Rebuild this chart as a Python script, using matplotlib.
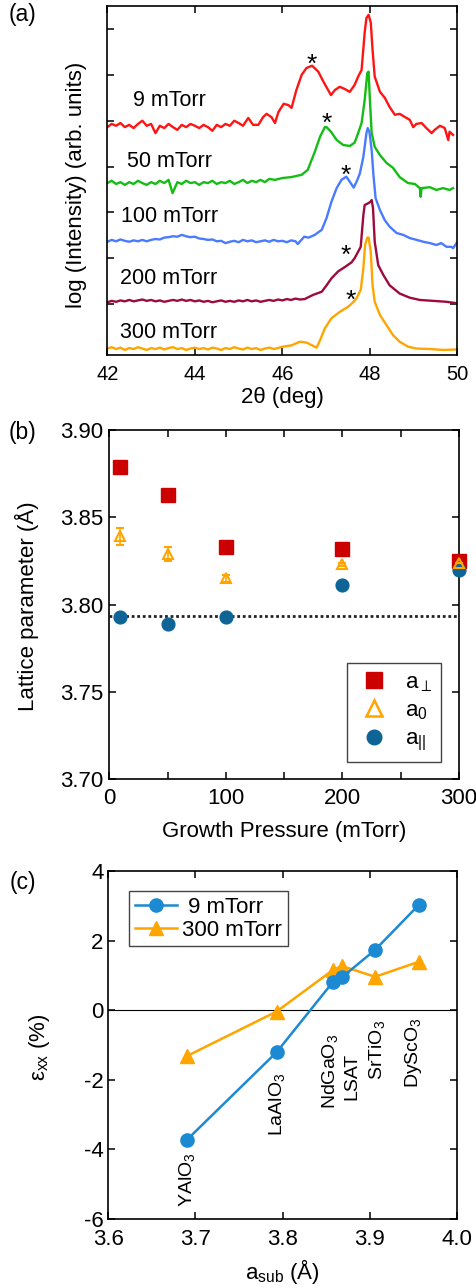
import numpy as np
import matplotlib.pyplot as plt
from matplotlib.lines import Line2D
from matplotlib.ticker import MultipleLocator

plt.rcParams['font.family'] = ['Liberation Sans', 'DejaVu Sans']
plt.rcParams['mathtext.fontset'] = 'custom'
plt.rcParams['mathtext.rm'] = 'Liberation Sans'
plt.rcParams['mathtext.it'] = 'Liberation Sans:italic'
plt.rcParams['mathtext.default'] = 'regular'
plt.rcParams['axes.unicode_minus'] = False

# ---- (a) XRD scans, log intensity with vertical offsets (arb. units) ----
scan_labels = ['9 mTorr', '50 mTorr', '100 mTorr', '200 mTorr', '300 mTorr']

red_x = [42.0, 42.1, 42.2, 42.3, 42.4, 42.5, 42.6, 42.7, 42.8, 42.9,
         43.0, 43.1, 43.2, 43.3, 43.4, 43.5, 43.6, 43.7, 43.8, 43.9,
         44.0, 44.1, 44.2, 44.3, 44.4, 44.5, 44.6, 44.7, 44.8, 44.9,
         45.0, 45.1, 45.22, 45.33, 45.45, 45.56, 45.64, 45.75, 45.83, 45.91,
         46.03, 46.14, 46.21, 46.32, 46.44, 46.55, 46.68, 46.82, 46.95, 47.11,
         47.2, 47.31, 47.43, 47.54, 47.65, 47.73, 47.81, 47.88, 47.92, 47.97,
         48.02, 48.06, 48.11, 48.23, 48.34, 48.45, 48.57, 48.68, 48.8, 48.91,
         48.99, 49.06, 49.18, 49.29, 49.41, 49.48, 49.6, 49.71, 49.79, 49.82, 49.9]
red_y = [3.86, 3.93, 3.89, 3.95, 3.86, 3.91, 3.84, 3.93, 4.00, 3.89,
         3.93, 3.73, 3.89, 3.84, 3.93, 3.86, 3.80, 3.91, 3.86, 3.93,
         3.89, 3.84, 3.91, 3.86, 3.78, 3.91, 3.86, 3.93, 3.89, 4.00,
         3.95, 3.89, 4.06, 3.91, 3.91, 4.08, 4.15, 4.08, 3.95, 4.19,
         4.37, 4.34, 4.28, 4.67, 5.00, 5.15, 5.20, 5.07, 4.83, 4.56,
         4.67, 4.74, 4.69, 4.63, 4.78, 4.96, 5.11, 5.92, 6.24, 6.31,
         6.14, 5.55, 4.96, 4.63, 4.50, 4.30, 4.13, 4.15, 4.08, 4.02,
         3.86, 3.93, 3.95, 3.84, 3.73, 3.80, 3.89, 3.84, 3.58, 3.76, 3.69]

green_x = [42.0, 42.1, 42.2, 42.3, 42.4, 42.5, 42.6, 42.7, 42.8, 42.9,
           43.0, 43.1, 43.2, 43.3, 43.4, 43.49, 43.6, 43.7, 43.8, 43.9,
           44.0, 44.1, 44.2, 44.3, 44.4, 44.5, 44.6, 44.7, 44.8, 44.9,
           45.0, 45.1, 45.2, 45.3, 45.4, 45.5, 45.6, 45.7, 45.83, 46.0,
           46.2, 46.44, 46.58, 46.74, 46.86, 46.97, 47.01, 47.11, 47.24, 47.39,
           47.54, 47.65, 47.69, 47.81, 47.88, 47.94, 47.97, 48.0, 48.04, 48.11,
           48.23, 48.38, 48.53, 48.68, 48.87, 49.03, 49.14, 49.16, 49.18, 49.37,
           49.52, 49.67, 49.82, 49.9]
green_y = [2.64, 2.69, 2.62, 2.66, 2.60, 2.66, 2.62, 2.69, 2.64, 2.60,
           2.66, 2.62, 2.69, 2.64, 2.71, 2.42, 2.66, 2.62, 2.69, 2.64,
           2.66, 2.60, 2.66, 2.64, 2.69, 2.62, 2.66, 2.64, 2.69, 2.62,
           2.66, 2.71, 2.64, 2.69, 2.66, 2.71, 2.66, 2.73, 2.71, 2.75,
           2.77, 2.82, 2.93, 3.32, 3.65, 3.86, 3.86, 3.76, 3.58, 3.47,
           3.45, 3.52, 3.62, 3.95, 4.45, 5.04, 5.07, 4.45, 3.73, 3.43,
           3.25, 3.08, 2.97, 2.77, 2.64, 2.62, 2.53, 2.34, 2.53, 2.55,
           2.49, 2.53, 2.49, 2.53]

blue_x = [42.0, 42.1, 42.2, 42.3, 42.4, 42.5, 42.6, 42.7, 42.8, 42.9,
          43.0, 43.1, 43.2, 43.3, 43.4, 43.5, 43.6, 43.7, 43.8, 43.9,
          44.0, 44.1, 44.2, 44.3, 44.4, 44.5, 44.6, 44.7, 44.8, 44.9,
          45.0, 45.1, 45.2, 45.3, 45.4, 45.5, 45.6, 45.7, 45.8, 45.9,
          46.0, 46.1, 46.2, 46.3, 46.35, 46.5, 46.6, 46.74, 46.9, 47.01,
          47.12, 47.24, 47.35, 47.46, 47.54, 47.63, 47.7, 47.77, 47.85, 47.92,
          47.95, 47.99, 48.04, 48.08, 48.13, 48.23, 48.34, 48.45, 48.61, 48.76,
          48.91, 49.07, 49.22, 49.37, 49.52, 49.63, 49.75, 49.86, 49.9, 49.98]
blue_y = [1.36, 1.40, 1.37, 1.41, 1.38, 1.36, 1.39, 1.37, 1.40, 1.37,
          1.40, 1.42, 1.41, 1.45, 1.46, 1.48, 1.47, 1.51, 1.48, 1.46,
          1.47, 1.43, 1.42, 1.40, 1.41, 1.37, 1.38, 1.33, 1.36, 1.38,
          1.35, 1.40, 1.37, 1.39, 1.35, 1.37, 1.39, 1.36, 1.40, 1.37,
          1.38, 1.35, 1.39, 1.37, 1.31, 1.47, 1.45, 1.51, 1.62, 1.88,
          2.23, 2.53, 2.71, 2.78, 2.67, 2.54, 2.68, 2.85, 3.21, 3.73,
          3.84, 3.75, 3.36, 2.82, 2.31, 2.05, 1.83, 1.69, 1.55, 1.51,
          1.44, 1.40, 1.36, 1.33, 1.29, 1.33, 1.25, 1.25, 1.22, 1.33]

maroon_x = [42.0, 42.1, 42.2, 42.3, 42.4, 42.5, 42.6, 42.7, 42.8, 42.9,
            43.0, 43.1, 43.2, 43.3, 43.4, 43.5, 43.6, 43.7, 43.8, 43.9,
            44.0, 44.1, 44.2, 44.3, 44.4, 44.5, 44.6, 44.7, 44.8, 44.9,
            45.0, 45.1, 45.2, 45.3, 45.4, 45.5, 45.6, 45.7, 45.8, 45.9,
            46.0, 46.1, 46.2, 46.3, 46.4, 46.51, 46.7, 46.9, 47.01, 47.12,
            47.27, 47.43, 47.58, 47.65, 47.69, 47.79, 47.85, 47.88, 47.96, 48.01,
            48.04, 48.07, 48.11, 48.19, 48.31, 48.45, 48.68, 48.91, 49.14, 49.45,
            49.75, 49.98]
maroon_y = [0.04, 0.07, 0.05, 0.08, 0.06, 0.09, 0.06, 0.08, 0.10, 0.07,
            0.09, 0.06, 0.08, 0.05, 0.07, 0.09, 0.07, 0.10, 0.07, 0.09,
            0.06, 0.08, 0.05, 0.07, 0.04, 0.06, 0.08, 0.05, 0.07, 0.05,
            0.08, 0.06, 0.09, 0.06, 0.08, 0.05, 0.07, 0.09, 0.07, 0.10,
            0.08, 0.11, 0.09, 0.12, 0.10, 0.11, 0.20, 0.27, 0.41, 0.56,
            0.71, 0.81, 0.91, 1.00, 1.07, 1.25, 1.94, 2.16, 2.20, 2.23,
            2.27, 2.10, 1.36, 0.85, 0.63, 0.41, 0.23, 0.14, 0.09, 0.07,
            0.05, 0.02]

orange_x = [42.0, 42.1, 42.2, 42.3, 42.4, 42.5, 42.6, 42.7, 42.8, 42.9,
            43.0, 43.1, 43.2, 43.3, 43.4, 43.5, 43.6, 43.7, 43.8, 43.9,
            44.0, 44.1, 44.2, 44.3, 44.4, 44.5, 44.6, 44.7, 44.8, 44.9,
            45.0, 45.1, 45.2, 45.3, 45.4, 45.5, 45.6, 45.7, 45.8, 45.9,
            46.0, 46.21, 46.4, 46.55, 46.7, 46.78, 46.86, 46.97, 47.12, 47.31,
            47.5, 47.65, 47.69, 47.79, 47.85, 47.89, 47.94, 47.97, 48.02, 48.06,
            48.11, 48.23, 48.38, 48.53, 48.68, 48.87, 49.07, 49.37, 49.67, 49.98]
orange_y = [-0.97, -0.94, -0.98, -0.95, -1.00, -0.96, -0.98, -0.94, -0.97, -1.00,
            -0.96, -0.98, -0.95, -0.99, -0.96, -0.94, -0.98, -0.96, -1.00, -0.97,
            -0.95, -0.98, -0.96, -0.99, -0.95, -0.97, -1.00, -0.96, -0.98, -0.94,
            -0.97, -0.99, -0.95, -0.98, -0.96, -1.00, -0.97, -0.95, -0.98, -0.96,
            -0.93, -0.90, -0.82, -0.84, -0.91, -0.95, -0.79, -0.53, -0.31, -0.17,
            -0.06, 0.07, 0.12, 0.31, 0.78, 1.29, 1.45, 1.45, 1.14, 0.41,
            0.05, -0.24, -0.46, -0.68, -0.82, -0.93, -0.97, -0.98, -1.00, -0.99]

# ---- (b) lattice parameters vs growth pressure ----
pressure = [9, 50, 100, 200, 300]
a_perp = [3.879, 3.863, 3.833, 3.832, 3.825]
a_0 = [3.839, 3.829, 3.815, 3.823, 3.824]
a_0_err = [0.005, 0.004, 0.002, 0.001, 0.0]
a_par = [3.793, 3.789, 3.793, 3.811, 3.820]
a_bulk = 3.7935

# ---- (c) in-plane strain vs substrate lattice parameter ----
substrates = ['YAlO$_3$', 'LaAlO$_3$', 'NdGaO$_3$', 'LSAT', 'SrTiO$_3$', 'DyScO$_3$']
a_sub = [3.69, 3.793, 3.858, 3.868, 3.906, 3.956]
strain_9 = [-3.73, -1.21, 0.82, 0.945, 1.73, 3.02]
strain_300 = [-1.32, -0.04, 1.16, 1.27, 0.96, 1.39]


fig = plt.figure(figsize=(4.77, 12.88), dpi=100)

def style_axes(ax, size, xpad, ypad):
    ax.tick_params(direction='in', top=True, right=True, length=5, width=1.1,
                   labelsize=size)
    ax.tick_params(axis='x', which='both', pad=xpad)
    ax.tick_params(axis='y', which='both', pad=ypad)
    ax.tick_params(which='minor', direction='in', top=True, right=True, length=5, width=1.1)
    for s in ax.spines.values():
        s.set_linewidth(1.2)

# panel (a)
ax_a = fig.add_axes([0.225, 0.7244, 0.734, 0.2712])
scan_colors = ['#ff1414', '#14bd14', '#4a7bff', '#9c0b3c', '#ffa500']
scans = [(red_x, red_y), (green_x, green_y), (blue_x, blue_y),
         (maroon_x, maroon_y), (orange_x, orange_y)]
for (x, y), c in zip(scans, scan_colors):
    ax_a.plot(x, y, color=c, lw=1.7)
ax_a.set_xlim(42, 50)
ax_a.set_ylim(-1.11, 6.51)
ax_a.set_xticks([42, 44, 46, 48, 50])
ax_a.set_yticks(range(0, 7))
ax_a.set_yticklabels([])
style_axes(ax_a, 14.5, 7, 4)

label_pos = [(42.59, 4.45), (42.45, 3.10), (42.31, 1.90), (42.29, 0.55), (42.29, -0.61)]
for (lx, ly), txt in zip(label_pos, scan_labels):
    ax_a.text(lx, ly, txt, va='center', ha='left', fontsize=15.5)
star_pos = [(46.67, 5.39), (47.02, 4.10), (47.45, 2.97), (47.45, 1.22), (47.56, 0.24)]
for sx, sy in star_pos:
    ax_a.text(sx, sy - 0.17, '*', ha='center', va='center', fontsize=19)

ax_a.set_xlabel('2θ (deg)', fontsize=16, va='center')
ax_a.xaxis.set_label_coords(0.5, -0.123)
ax_a.set_ylabel('log (Intensity) (arb. units)', fontsize=16, va='center')
ax_a.yaxis.set_label_coords(-0.089, 0.488)

# panel (b)
ax_b = fig.add_axes([0.2291, 0.3950, 0.7331, 0.2712])
ax_b.axhline(a_bulk, color='#222222', ls=(0, (1, 1.0)), lw=2.0, zorder=2)
ax_b.plot(pressure, a_perp, 's', color='#cc0000', ms=9.4, clip_on=False, zorder=3)
ax_b.plot(pressure, a_par, 'o', color='#0f6496', ms=9.2, clip_on=False, zorder=4)
ax_b.errorbar(pressure, a_0, yerr=a_0_err, fmt='^', color='#ffa500', mfc='none',
              mew=1.5, ms=7.5, capsize=3, elinewidth=1.2, capthick=1.2,
              clip_on=False, zorder=5)
ax_b.set_xlim(0, 300)
ax_b.set_ylim(3.70, 3.90)
ax_b.xaxis.set_major_locator(MultipleLocator(100))
ax_b.xaxis.set_minor_locator(MultipleLocator(50))
ax_b.yaxis.set_major_locator(MultipleLocator(0.05))
ax_b.yaxis.set_major_formatter(plt.FormatStrFormatter('%.2f'))
style_axes(ax_b, 16, 6, 4)
ax_b.set_xlabel('Growth Pressure (mTorr)', fontsize=16, va='center')
ax_b.xaxis.set_label_coords(0.5, -0.151)
ax_b.set_ylabel('Lattice parameter (Å)', fontsize=16, va='center')
ax_b.yaxis.set_label_coords(-0.235, 0.496)

h_perp = Line2D([], [], ls='none', marker='s', color='#cc0000', ms=11)
h_0 = Line2D([], [], ls='none', marker='^', color='#ffa500', mfc='none', mew=1.8, ms=12)
h_par = Line2D([], [], ls='none', marker='o', color='#0f6496', ms=10.5)
leg_b = ax_b.legend([h_perp, h_0, h_par], [r'a$_{\perp}$', r'a$_0$', r'a$_{||}$'],
                    loc='lower right', bbox_to_anchor=(0.9485, 0.0495),
                    fancybox=False, edgecolor='#444444', framealpha=1, fontsize=16,
                    handlelength=1.6, handletextpad=0.6, labelspacing=0.3,
                    borderpad=0.4, borderaxespad=0)
leg_b.get_frame().set_linewidth(1.0)

# panel (c)
ax_c = fig.add_axes([0.2270, 0.05357, 0.7310, 0.2702])
ax_c.axhline(0, color='black', lw=0.8, zorder=1)
ax_c.plot(a_sub, strain_300, '-^', color='#ffa500', lw=1.8, ms=10, label='300 mTorr', zorder=2)
ax_c.plot(a_sub, strain_9, '-o', color='#1b8ad3', lw=1.8, ms=9.5, label=' 9 mTorr', zorder=3)
ax_c.set_xlim(3.6, 4.0)
ax_c.set_ylim(-6, 4)
ax_c.xaxis.set_major_locator(MultipleLocator(0.1))
ax_c.xaxis.set_major_formatter(plt.FormatStrFormatter('%.1f'))
ax_c.yaxis.set_major_locator(MultipleLocator(2))
style_axes(ax_c, 16, 7.5, 3.5)

sub_label_pos = [(3.69, -4.07), (3.793, -1.8), (3.854, -0.67), (3.879, -1.23),
                 (3.908, -0.28), (3.95, -0.19)]
for (sx, sy), name in zip(sub_label_pos, substrates):
    ax_c.text(sx, sy, name, rotation=90, ha='center', va='top', fontsize=14)

handles, labels = ax_c.get_legend_handles_labels()
leg_c = ax_c.legend(handles[::-1], labels[::-1], loc='upper left',
                    bbox_to_anchor=(0.0594, 0.9425), fancybox=False,
                    edgecolor='#444444', framealpha=1, fontsize=16,
                    handlelength=1.9, handletextpad=0.25, labelspacing=0.1,
                    borderpad=0.25, borderaxespad=0)
leg_c.get_frame().set_linewidth(1.0)

ax_c.set_xlabel('a$_{sub}$ (Å)', fontsize=16, va='center')
ax_c.xaxis.set_label_coords(0.5, -0.151)
ax_c.set_ylabel('ε$_{xx}$ (%)', fontsize=16, va='center')
ax_c.yaxis.set_label_coords(-0.196, 0.494)

fig.text(23 / 477, 1 - 15 / 1288, '(a)', ha='center', va='center', fontsize=16.5)
fig.text(23 / 477, 1 - 433 / 1288, '(b)', ha='center', va='center', fontsize=16.5)
fig.text(23 / 477, 1 - 883 / 1288, '(c)', ha='center', va='center', fontsize=16.5)

fig.savefig('out.png', dpi=100)
